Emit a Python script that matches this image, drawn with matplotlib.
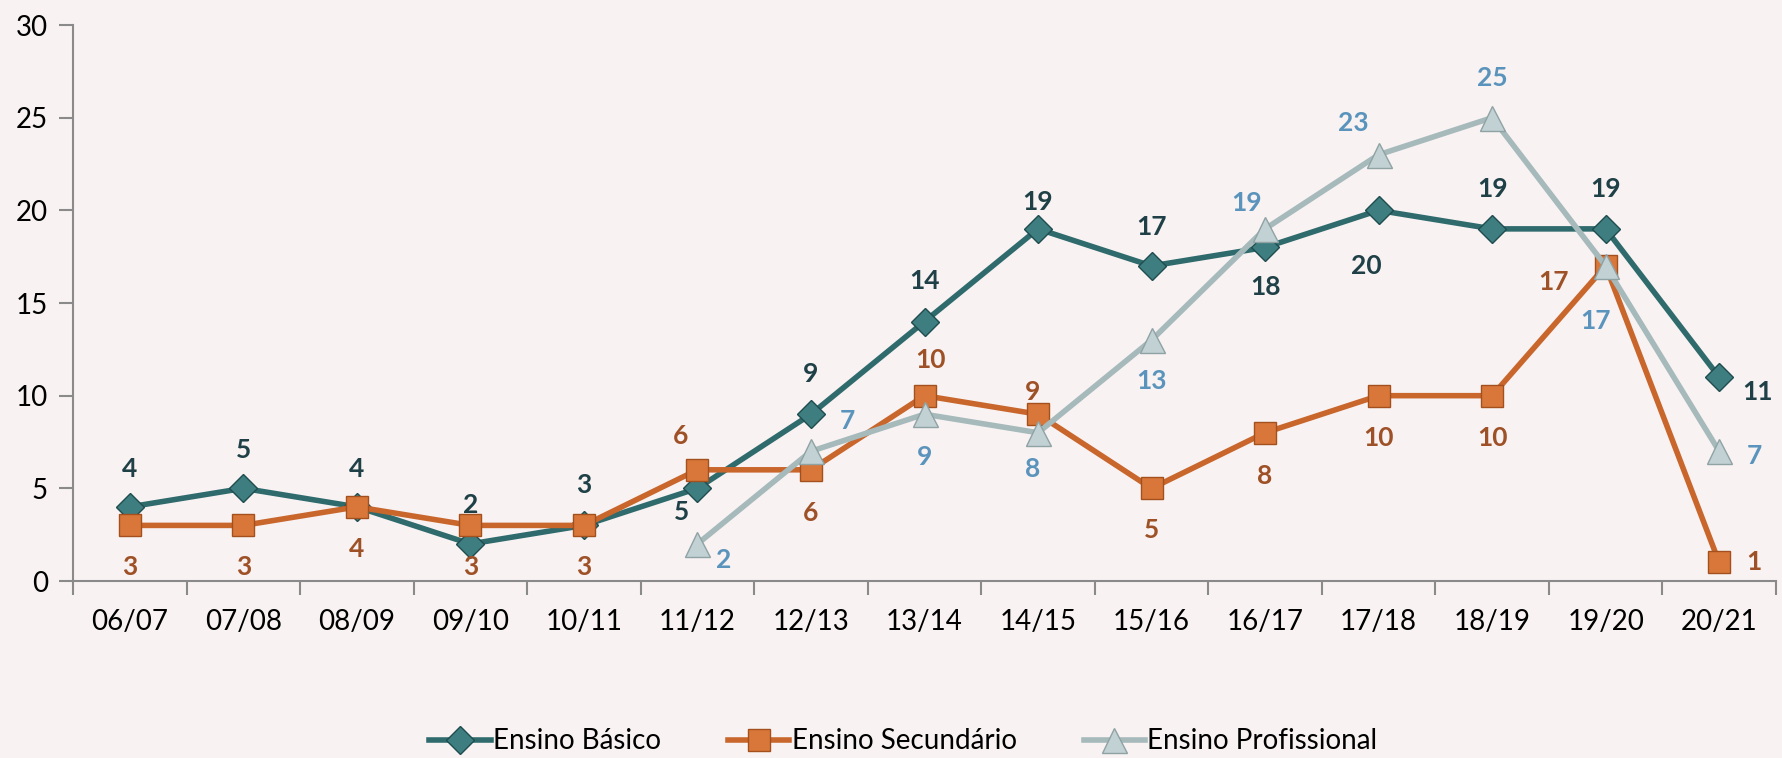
import matplotlib.pyplot as plt
from matplotlib.lines import Line2D

plt.rcParams['font.family'] = ['Lato', 'DejaVu Sans']

years = ['06/07', '07/08', '08/09', '09/10', '10/11', '11/12', '12/13', '13/14',
         '14/15', '15/16', '16/17', '17/18', '18/19', '19/20', '20/21']
basico = [4, 5, 4, 2, 3, 5, 9, 14, 19, 17, 18, 20, 19, 19, 11]
secundario = [3, 3, 4, 3, 3, 6, 6, 10, 9, 5, 8, 10, 10, 17, 1]
profissional = [None, None, None, None, None, 2, 7, 9, 8, 13, 19, 23, 25, 17, 7]

# label offsets in pixels (dx, dy), picked to sit where the original puts them
off_bas = [(0, 38), (0, 38), (0, 38), (0, 39), (0, 40), (-16, -24), (0, 40), (0, 41),
           (0, 27), (0, 39), (0, -40), (-12, -56), (0, 40), (0, 40), (38, -15)]
off_sec = [(0, -42), (0, -42), (0, -42), (0, -42), (0, -42), (-17, 34), (0, -43), (6, 36),
           (-5, 22), (0, -42), (0, -43), (0, -42), (0, -42), (-52, -16), (35, 0)]
off_pro = [None, None, None, None, None, (26, -16), (36, 30), (0, -43), (-5, -36),
           (0, -41), (-19, 26), (-25, 32), (0, 40), (-10, -55), (35, -5)]

bg = '#F8F2F2'
c_bas, c_bas_lab = '#2F6A6C', '#1E4046'
c_sec, c_sec_lab = '#C8662C', '#9E5127'
c_pro, c_pro_lab = '#A6B9BB', '#5A94BC'

fig = plt.figure(figsize=(17.82, 7.58), dpi=100, facecolor=bg)
ax = fig.add_axes([0.041, 0.2335, 0.9556, 0.7335], facecolor=bg)

x = list(range(len(years)))
xp = [i for i, v in enumerate(profissional) if v is not None]
yp = [v for v in profissional if v is not None]

st_bas = dict(color=c_bas, lw=4, marker='D', ms=14, mfc='#3E7E80', mec='#1F4C4E', mew=1)
st_sec = dict(color=c_sec, lw=4, marker='s', ms=16, mfc='#D9773A', mec='#A4501E', mew=1)
st_pro = dict(color=c_pro, lw=4, marker='^', ms=18, mfc='#C2D1D3', mec='#8FA2A4', mew=1)

ax.plot(x, basico, zorder=3, **st_bas)
ax.plot(x, secundario, zorder=3, **st_sec)
ax.plot(xp, yp, zorder=4, **st_pro)

def labels(xs, vals, offs, color):
    for xi, v, o in zip(xs, vals, offs):
        if v is None:
            continue
        ax.annotate(str(v), (xi, v), xytext=(o[0] * 0.72, o[1] * 0.72),
                    textcoords='offset points', ha='center', va='center',
                    fontsize=19, fontweight='bold', color=color, zorder=5)

labels(x, basico, off_bas, c_bas_lab)
labels(x, secundario, off_sec, c_sec_lab)
labels(x, profissional, off_pro, c_pro_lab)

ax.set_xlim(-0.5, len(years) - 0.5)
ax.set_ylim(0, 30)
ax.set_yticks(range(0, 31, 5))
ax.set_xticks([i - 0.5 for i in range(len(years) + 1)])
ax.set_xticklabels([])
ax.set_xticks(x, minor=True)
ax.set_xticklabels(years, minor=True)
ax.tick_params(axis='x', which='major', length=10, width=1.5, color='#8A8A8A', direction='out')
ax.tick_params(axis='x', which='minor', length=0, pad=20, labelsize=20)
ax.tick_params(axis='y', length=10, width=1.5, color='#8A8A8A', labelsize=20, pad=8)

for s in ['top', 'right']:
    ax.spines[s].set_visible(False)
for s in ['left', 'bottom']:
    ax.spines[s].set_color('#8A8A8A')
    ax.spines[s].set_linewidth(1.5)

handles = [Line2D([], [], **st_bas), Line2D([], [], **st_sec), Line2D([], [], **st_pro)]
fig.legend(handles, ['Ensino Básico', 'Ensino Secundário', 'Ensino Profissional'],
           loc='lower center', bbox_to_anchor=(0.507, -0.028), ncol=3, frameon=False,
           fontsize=20, handlelength=2.2, handletextpad=0.1, columnspacing=2.4)

fig.savefig('out.png', dpi=100, facecolor=bg)
